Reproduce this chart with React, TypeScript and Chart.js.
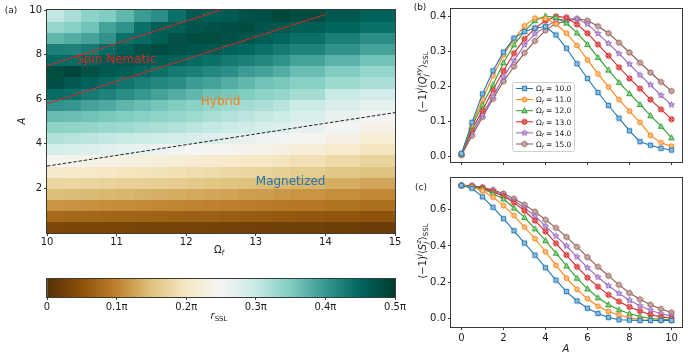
import React, { useEffect, useRef } from "react";
import { Chart, registerables } from "chart.js";
Chart.register(...registerables);

const FONT = '"DejaVu Sans", "Liberation Sans", sans-serif';

// ---------------- data ----------------
const A_VALUES = [0, 0.5, 1, 1.5, 2, 2.5, 3, 3.5, 4, 4.5, 5, 5.5, 6, 6.5, 7, 7.5, 8, 8.5, 9, 9.5, 10];
const OMEGA_LABELS = ["10.0", "11.0", "12.0", "13.0", "14.0", "15.0"];

const Q_10 = [0.009, 0.098, 0.179, 0.245, 0.298, 0.338, 0.357, 0.366, 0.371, 0.347, 0.309, 0.265, 0.223, 0.183, 0.146, 0.110, 0.074, 0.043, 0.033, 0.024, 0.019];
const Q_11 = [0.008, 0.092, 0.163, 0.231, 0.290, 0.335, 0.373, 0.395, 0.394, 0.378, 0.352, 0.317, 0.276, 0.236, 0.199, 0.163, 0.130, 0.098, 0.061, 0.040, 0.030];
const Q_12 = [0.007, 0.087, 0.148, 0.205, 0.268, 0.319, 0.357, 0.388, 0.401, 0.397, 0.381, 0.353, 0.320, 0.283, 0.247, 0.212, 0.180, 0.149, 0.117, 0.087, 0.054];
const Q_13 = [0.007, 0.078, 0.132, 0.191, 0.245, 0.295, 0.336, 0.366, 0.388, 0.400, 0.397, 0.377, 0.352, 0.320, 0.288, 0.255, 0.223, 0.194, 0.163, 0.135, 0.107];
const Q_14 = [0.006, 0.070, 0.120, 0.172, 0.227, 0.274, 0.319, 0.350, 0.370, 0.388, 0.393, 0.393, 0.378, 0.351, 0.323, 0.294, 0.264, 0.233, 0.205, 0.175, 0.148];
const Q_15 = [0.005, 0.060, 0.113, 0.165, 0.215, 0.257, 0.296, 0.330, 0.360, 0.380, 0.386, 0.393, 0.388, 0.372, 0.352, 0.325, 0.297, 0.268, 0.240, 0.213, 0.187];

const S_10 = [0.735, 0.719, 0.672, 0.614, 0.551, 0.484, 0.416, 0.349, 0.280, 0.211, 0.148, 0.096, 0.056, 0.027, 0.005, -0.008, -0.010, -0.012, -0.012, -0.012, -0.012];
const S_11 = [0.735, 0.725, 0.705, 0.670, 0.623, 0.568, 0.505, 0.440, 0.368, 0.293, 0.222, 0.160, 0.108, 0.067, 0.038, 0.018, 0.003, -0.008, -0.010, -0.012, -0.012];
const S_12 = [0.735, 0.728, 0.715, 0.690, 0.660, 0.610, 0.558, 0.495, 0.430, 0.360, 0.290, 0.222, 0.163, 0.114, 0.075, 0.047, 0.025, 0.010, -0.001, -0.006, -0.010];
const S_13 = [0.735, 0.730, 0.720, 0.700, 0.675, 0.640, 0.595, 0.540, 0.480, 0.415, 0.350, 0.285, 0.225, 0.175, 0.130, 0.093, 0.063, 0.040, 0.020, 0.008, 0.000];
const S_14 = [0.735, 0.732, 0.722, 0.705, 0.680, 0.650, 0.610, 0.565, 0.510, 0.455, 0.400, 0.340, 0.280, 0.228, 0.180, 0.138, 0.100, 0.070, 0.045, 0.025, 0.012];
const S_15 = [0.735, 0.733, 0.725, 0.710, 0.690, 0.662, 0.628, 0.590, 0.545, 0.500, 0.450, 0.395, 0.338, 0.285, 0.235, 0.185, 0.140, 0.105, 0.075, 0.052, 0.032];

const Q_SERIES = [Q_10, Q_11, Q_12, Q_13, Q_14, Q_15];
const S_SERIES = [S_10, S_11, S_12, S_13, S_14, S_15];

// heat map: r_SSL in units of pi; rows from A = 0 (bottom) to A = 10 (top)
const OMEGA_EDGES = [10, 10.25, 10.5, 10.75, 11, 11.25, 11.5, 11.75, 12, 12.25, 12.5, 12.75, 13, 13.25, 13.5, 14, 14.5, 15];
const A_EDGES = [0, 0.5, 1, 1.5, 2, 2.5, 3, 3.5, 4, 4.5, 5, 5.5, 6, 6.5, 7, 7.5, 8, 8.5, 9, 9.5, 10];
const R_ROWS = [
  [0.036, 0.035, 0.034, 0.033, 0.033, 0.032, 0.031, 0.031, 0.030, 0.029, 0.028, 0.027, 0.026, 0.025, 0.024, 0.022, 0.020],
  [0.075, 0.074, 0.073, 0.072, 0.071, 0.070, 0.068, 0.067, 0.066, 0.065, 0.063, 0.062, 0.060, 0.059, 0.057, 0.055, 0.052],
  [0.115, 0.113, 0.112, 0.110, 0.109, 0.107, 0.105, 0.103, 0.102, 0.100, 0.098, 0.096, 0.094, 0.092, 0.090, 0.086, 0.082],
  [0.148, 0.146, 0.144, 0.142, 0.140, 0.138, 0.135, 0.133, 0.131, 0.128, 0.126, 0.123, 0.121, 0.118, 0.115, 0.110, 0.105],
  [0.178, 0.176, 0.174, 0.172, 0.170, 0.167, 0.165, 0.162, 0.159, 0.156, 0.153, 0.150, 0.147, 0.144, 0.140, 0.134, 0.128],
  [0.208, 0.206, 0.204, 0.201, 0.198, 0.195, 0.192, 0.189, 0.186, 0.183, 0.179, 0.176, 0.172, 0.168, 0.163, 0.157, 0.150],
  [0.245, 0.242, 0.238, 0.234, 0.230, 0.227, 0.224, 0.220, 0.216, 0.212, 0.208, 0.204, 0.200, 0.196, 0.190, 0.181, 0.172],
  [0.285, 0.281, 0.277, 0.272, 0.268, 0.264, 0.259, 0.255, 0.250, 0.246, 0.242, 0.238, 0.233, 0.228, 0.222, 0.210, 0.198],
  [0.315, 0.312, 0.308, 0.304, 0.300, 0.295, 0.291, 0.286, 0.280, 0.275, 0.270, 0.265, 0.260, 0.254, 0.246, 0.232, 0.218],
  [0.342, 0.339, 0.336, 0.332, 0.328, 0.324, 0.319, 0.314, 0.308, 0.302, 0.296, 0.290, 0.284, 0.278, 0.266, 0.252, 0.236],
  [0.367, 0.364, 0.360, 0.355, 0.350, 0.345, 0.340, 0.334, 0.328, 0.321, 0.314, 0.308, 0.301, 0.294, 0.282, 0.266, 0.252],
  [0.405, 0.400, 0.390, 0.383, 0.372, 0.365, 0.357, 0.350, 0.343, 0.337, 0.330, 0.325, 0.320, 0.310, 0.295, 0.280, 0.268],
  [0.445, 0.440, 0.430, 0.420, 0.410, 0.400, 0.390, 0.380, 0.370, 0.360, 0.355, 0.348, 0.340, 0.335, 0.325, 0.300, 0.288],
  [0.478, 0.465, 0.455, 0.445, 0.435, 0.425, 0.415, 0.410, 0.395, 0.390, 0.380, 0.370, 0.360, 0.355, 0.345, 0.330, 0.320],
  [0.480, 0.490, 0.475, 0.465, 0.460, 0.450, 0.440, 0.430, 0.425, 0.415, 0.410, 0.395, 0.390, 0.380, 0.365, 0.350, 0.335],
  [0.445, 0.445, 0.455, 0.465, 0.470, 0.465, 0.460, 0.455, 0.445, 0.440, 0.430, 0.425, 0.415, 0.405, 0.390, 0.375, 0.360],
  [0.425, 0.420, 0.430, 0.445, 0.460, 0.475, 0.480, 0.475, 0.470, 0.465, 0.455, 0.450, 0.440, 0.430, 0.420, 0.405, 0.390],
  [0.370, 0.380, 0.390, 0.405, 0.440, 0.445, 0.460, 0.475, 0.480, 0.480, 0.475, 0.470, 0.460, 0.450, 0.440, 0.425, 0.410],
  [0.335, 0.345, 0.360, 0.390, 0.405, 0.440, 0.460, 0.460, 0.470, 0.475, 0.478, 0.480, 0.470, 0.468, 0.460, 0.450, 0.440],
  [0.305, 0.320, 0.340, 0.350, 0.370, 0.395, 0.410, 0.440, 0.465, 0.460, 0.463, 0.475, 0.477, 0.487, 0.480, 0.467, 0.455],
];

// phase boundary lines (Omega, A)
const NEMATIC_UPPER_OMEGA = [10, 12.5];
const NEMATIC_UPPER_A = [7.5, 10];
const NEMATIC_LOWER_OMEGA = [10, 14];
const NEMATIC_LOWER_A = [5.8, 9.8];
const MAGNET_OMEGA = [10, 15];
const MAGNET_A = [3.0, 5.4];

const HEAT_X_TICKS = [10, 11, 12, 13, 14, 15];
const HEAT_Y_TICKS = [2, 4, 6, 8, 10];
const CB_TICKS = [0, 0.1, 0.2, 0.3, 0.4, 0.5];
const CB_TICK_LABELS = ["0", "0.1π", "0.2π", "0.3π", "0.4π", "0.5π"];
const A_TICKS = [0, 2, 4, 6, 8, 10];
const Q_TICKS = [0, 0.1, 0.2, 0.3, 0.4];
const S_TICKS = [0, 0.2, 0.4, 0.6];

// ---------------- styles ----------------
const SERIES_COLORS = ["#1f77b4", "#ff7f0e", "#2ca02c", "#d62728", "#9467bd", "#8c564b"];
const MARKER_SHAPES = ["square", "circle", "triangle", "xcircle", "star", "octagon"];
const BRBG = ["#543005", "#8c510a", "#bf812d", "#dfc27d", "#f6e8c3", "#f5f5f5", "#c7eae5", "#80cdc1", "#35978f", "#01665e", "#003c30"];
const AXIS_COLOR = "#3a3a3a";
const TEXT_COLOR = "#1a1a1a";

function hexToRgb(h: string) {
  const n = parseInt(h.slice(1), 16);
  return [(n >> 16) & 255, (n >> 8) & 255, n & 255];
}
const BRBG_RGB = BRBG.map(hexToRgb);
function cmap(t: number) {
  t = Math.max(0, Math.min(1, t));
  const p = t * 10;
  const i = Math.min(9, Math.floor(p));
  const f = p - i;
  const a = BRBG_RGB[i], b = BRBG_RGB[i + 1];
  const c = a.map((v, k) => Math.round(v + (b[k] - v) * f));
  return `rgb(${c[0]},${c[1]},${c[2]})`;
}

function hexA(h: string, a: number) {
  const [r, g, b] = hexToRgb(h);
  return `rgba(${r},${g},${b},${a})`;
}

function makeMarker(shape: string, color: string): HTMLCanvasElement {
  const s = 9;
  const cv = document.createElement("canvas");
  cv.width = s; cv.height = s;
  const ctx = cv.getContext("2d")!;
  const c = s / 2;
  ctx.fillStyle = "#fff";
  ctx.strokeStyle = color;
  ctx.lineWidth = 1;
  ctx.beginPath();
  if (shape === "square") {
    ctx.rect(c - 2.2, c - 2.2, 4.4, 4.4);
  } else if (shape === "circle") {
    ctx.arc(c, c, 2.4, 0, Math.PI * 2);
  } else if (shape === "triangle") {
    ctx.moveTo(c, c - 2.9);
    ctx.lineTo(c + 2.7, c + 2.1);
    ctx.lineTo(c - 2.7, c + 2.1);
    ctx.closePath();
  } else if (shape === "xcircle") {
    ctx.arc(c, c, 2.6, 0, Math.PI * 2);
  } else if (shape === "star") {
    for (let k = 0; k < 10; k++) {
      const r = k % 2 === 0 ? 3.1 : 1.35;
      const ang = -Math.PI / 2 + (k * Math.PI) / 5;
      const x = c + r * Math.cos(ang), y = c + r * Math.sin(ang);
      if (k === 0) ctx.moveTo(x, y); else ctx.lineTo(x, y);
    }
    ctx.closePath();
  } else {
    for (let k = 0; k < 8; k++) {
      const ang = Math.PI / 8 + (k * Math.PI) / 4;
      const x = c + 2.7 * Math.cos(ang), y = c + 2.7 * Math.sin(ang);
      if (k === 0) ctx.moveTo(x, y); else ctx.lineTo(x, y);
    }
    ctx.closePath();
  }
  ctx.fill();
  ctx.fillStyle = hexA(color, 0.5);
  ctx.fill();
  ctx.stroke();
  if (shape === "xcircle") {
    ctx.beginPath();
    ctx.moveTo(c - 1.6, c - 1.6); ctx.lineTo(c + 1.6, c + 1.6);
    ctx.moveTo(c + 1.6, c - 1.6); ctx.lineTo(c - 1.6, c + 1.6);
    ctx.stroke();
  }
  return cv;
}

// ---------------- rich text ----------------
type Seg = { t?: string; it?: boolean; sub?: boolean; sup?: boolean; up?: string; dn?: string };
function fnt(size: number, italic?: boolean) {
  return `${italic ? "italic " : ""}${size}px ${FONT}`;
}
function drawRich(ctx: CanvasRenderingContext2D, segs: Seg[], x: number, y: number, size: number, color: string, align: "left" | "center", rot = 0) {
  ctx.save();
  ctx.translate(x, y);
  if (rot) ctx.rotate(rot);
  const small = size * 0.7;
  const widths = segs.map((s) => {
    if (s.up !== undefined || s.dn !== undefined) {
      ctx.font = fnt(small, true);
      return Math.max(s.up ? ctx.measureText(s.up).width : 0, s.dn ? ctx.measureText(s.dn).width : 0);
    }
    ctx.font = fnt(s.sub || s.sup ? small : size, s.it);
    return ctx.measureText(s.t || "").width;
  });
  const total = widths.reduce((a, b) => a + b, 0);
  let cx = align === "center" ? -total / 2 : 0;
  ctx.fillStyle = color;
  ctx.textAlign = "left";
  ctx.textBaseline = "alphabetic";
  const base = size * 0.36;
  segs.forEach((s, i) => {
    if (s.up !== undefined || s.dn !== undefined) {
      ctx.font = fnt(small, true);
      if (s.up) ctx.fillText(s.up, cx, base - size * 0.45);
      if (s.dn) ctx.fillText(s.dn, cx, base + size * 0.28);
    } else {
      ctx.font = fnt(s.sub || s.sup ? small : size, s.it);
      const dy = s.sub ? size * 0.25 : s.sup ? -size * 0.42 : 0;
      ctx.fillText(s.t || "", cx, base + dy);
    }
    cx += widths[i];
  });
  ctx.restore();
}

function framePlugin(id: string) {
  return {
    id,
    afterDraw(chart: any) {
      const { ctx, chartArea: ca } = chart;
      ctx.save();
      ctx.strokeStyle = AXIS_COLOR;
      ctx.lineWidth = 1;
      ctx.strokeRect(Math.round(ca.left) - 0.5, Math.round(ca.top) - 0.5, Math.round(ca.right) - Math.round(ca.left) + 1, Math.round(ca.bottom) - Math.round(ca.top) + 1);
      ctx.restore();
    },
  };
}

const tickFont = { family: FONT, size: 10 };

function fixedTicks(values: number[]) {
  return (scale: any) => {
    scale.ticks = values.map((v) => ({ value: v }));
  };
}

export default function App() {
  const heatRef = useRef<HTMLCanvasElement>(null);
  const cbRef = useRef<HTMLCanvasElement>(null);
  const bRef = useRef<HTMLCanvasElement>(null);
  const cRef = useRef<HTMLCanvasElement>(null);

  useEffect(() => {
    const markers = MARKER_SHAPES.map((s, i) => makeMarker(s, SERIES_COLORS[i]));
    const charts: Chart[] = [];

    // ---------- (a) heat map ----------
    const heatCells = {
      id: "heatCells",
      beforeDatasetsDraw(chart: any) {
        const { ctx, chartArea: ca, scales } = chart;
        const xs = scales.x, ys = scales.y;
        ctx.save();
        ctx.beginPath();
        ctx.rect(ca.left, ca.top, ca.width, ca.height);
        ctx.clip();
        for (let r = 0; r < R_ROWS.length; r++) {
          const yb = ys.getPixelForValue(A_EDGES[r]);
          const yt = ys.getPixelForValue(A_EDGES[r + 1]);
          for (let c = 0; c < R_ROWS[r].length; c++) {
            const xl = xs.getPixelForValue(OMEGA_EDGES[c]);
            const xr = xs.getPixelForValue(OMEGA_EDGES[c + 1]);
            ctx.fillStyle = cmap(R_ROWS[r][c] / 0.5);
            ctx.fillRect(Math.floor(xl), Math.floor(yt), Math.ceil(xr) - Math.floor(xl), Math.ceil(yb) - Math.floor(yt));
          }
        }
        ctx.restore();
      },
    };
    const heatText = {
      id: "heatText",
      afterDraw(chart: any) {
        const { ctx, scales } = chart;
        const xs = scales.x, ys = scales.y;
        const put = (txt: string, om: number, a: number, color: string) => {
          ctx.save();
          ctx.font = fnt(12);
          ctx.fillStyle = color;
          ctx.textAlign = "left";
          ctx.textBaseline = "middle";
          ctx.fillText(txt, xs.getPixelForValue(om), ys.getPixelForValue(a));
          ctx.restore();
        };
        put("Spin Nematic", 10.42, 7.75, "#d62728");
        put("Hybrid", 12.21, 5.87, "#ff7f0e");
        put("Magnetized", 13.0, 2.29, "#1f77b4");
        drawRich(ctx, [{ t: "(a)" }], 11, 10, 9, TEXT_COLOR, "center");
        drawRich(ctx, [{ t: "A", it: true }], 21, 121, 10, TEXT_COLOR, "center", -Math.PI / 2);
        drawRich(ctx, [{ t: "Ω" }, { t: "f", sub: true, it: true }], 219, 249, 10, TEXT_COLOR, "center");
      },
    };
    const lineDs = (oms: number[], as: number[], color: string, dash: number[] = []) => ({
      data: oms.map((o, i) => ({ x: o, y: as[i] })),
      showLine: true,
      borderColor: color,
      borderWidth: 1,
      borderDash: dash,
      pointRadius: 0,
      fill: false,
    });
    charts.push(
      new Chart(heatRef.current!, {
        type: "scatter",
        data: {
          datasets: [
            lineDs(NEMATIC_UPPER_OMEGA, NEMATIC_UPPER_A, "#d62728"),
            lineDs(NEMATIC_LOWER_OMEGA, NEMATIC_LOWER_A, "#d62728"),
            lineDs(MAGNET_OMEGA, MAGNET_A, "#222222", [3.5, 1.8]),
          ] as any,
        },
        options: {
          animation: false,
          responsive: false,
          events: [],
          layout: { padding: { left: 0, top: 10, right: 15, bottom: 0 } },
          plugins: { legend: { display: false }, tooltip: { enabled: false } },
          scales: {
            x: {
              type: "linear", min: 10, max: 15,
              afterBuildTicks: fixedTicks(HEAT_X_TICKS),
              afterFit: (s: any) => { s.height = 27; },
              grid: { drawOnChartArea: false, tickLength: 3, color: AXIS_COLOR },
              border: { display: false },
              ticks: { font: tickFont, color: TEXT_COLOR, padding: 0, maxRotation: 0 },
            },
            y: {
              type: "linear", min: 0, max: 10,
              afterBuildTicks: fixedTicks(HEAT_Y_TICKS),
              afterFit: (s: any) => { s.width = 47; },
              grid: { drawOnChartArea: false, tickLength: 3, color: AXIS_COLOR },
              border: { display: false },
              ticks: { font: tickFont, color: TEXT_COLOR, padding: 2 },
            },
          },
        } as any,
        plugins: [heatCells, heatText, framePlugin("heatFrame")] as any,
      })
    );

    // ---------- colour bar ----------
    const cbText = {
      id: "cbText",
      afterDraw(chart: any) {
        drawRich(chart.ctx, [{ t: "r", it: true }, { t: "SSL", sub: true }], 219, 45, 10, TEXT_COLOR, "center");
      },
    };
    charts.push(
      new Chart(cbRef.current!, {
        type: "bar",
        data: {
          labels: ["r"],
          datasets: [
            {
              data: [[CB_TICKS[0], CB_TICKS[CB_TICKS.length - 1]]],
              backgroundColor: (c: any) => {
                const ca = c.chart.chartArea;
                if (!ca) return "#fff";
                const g = c.chart.ctx.createLinearGradient(ca.left, 0, ca.right, 0);
                BRBG.forEach((col, i) => g.addColorStop(i / (BRBG.length - 1), col));
                return g;
              },
              borderWidth: 0,
              barPercentage: 1,
              categoryPercentage: 1,
            },
          ] as any,
        },
        options: {
          indexAxis: "y",
          animation: false,
          responsive: false,
          events: [],
          layout: { padding: { left: 47, top: 9, right: 15, bottom: 0 } },
          plugins: { legend: { display: false }, tooltip: { enabled: false } },
          scales: {
            x: {
              type: "linear", min: 0, max: 0.5,
              afterBuildTicks: fixedTicks(CB_TICKS),
              afterFit: (s: any) => { s.height = 62; },
              grid: { drawOnChartArea: false, tickLength: 3, color: AXIS_COLOR },
              border: { display: false },
              ticks: { font: tickFont, color: TEXT_COLOR, padding: 1, maxRotation: 0, callback: (_v: any, i: number) => CB_TICK_LABELS[i] },
            },
            y: { display: false },
          },
        } as any,
        plugins: [cbText, framePlugin("cbFrame")] as any,
      })
    );

    // ---------- (b) and (c) ----------
    const makeDatasets = (series: number[][]) =>
      series.map((vals, i) => ({
        label: OMEGA_LABELS[i],
        data: A_VALUES.map((a, k) => ({ x: a, y: vals[k] })),
        borderColor: SERIES_COLORS[i],
        backgroundColor: SERIES_COLORS[i],
        borderWidth: 1.1,
        pointStyle: markers[i],
        pointRadius: 3,
        tension: 0,
        fill: false,
      }));

    const legendPlugin = {
      id: "bLegend",
      afterDraw(chart: any) {
        const ctx = chart.ctx as CanvasRenderingContext2D;
        const x0 = 112.5, y0 = 82.5, w = 62, h = 69;
        ctx.save();
        ctx.fillStyle = "rgba(255,255,255,0.85)";
        ctx.strokeStyle = "#d0d0d0";
        ctx.lineWidth = 1;
        ctx.beginPath();
        (ctx as any).roundRect(x0, y0, w, h, 2);
        ctx.fill();
        ctx.stroke();
        for (let i = 0; i < OMEGA_LABELS.length; i++) {
          const y = 88.5 + i * 11.1;
          ctx.strokeStyle = SERIES_COLORS[i];
          ctx.beginPath();
          ctx.moveTo(116, y);
          ctx.lineTo(133, y);
          ctx.stroke();
          const m = markers[i];
          ctx.drawImage(m, 124.5 - m.width / 2, y - m.height / 2);
          drawRich(ctx, [{ t: "Ω" }, { t: "f", sub: true, it: true }, { t: " = " + OMEGA_LABELS[i] }], 136, y, 7.5, TEXT_COLOR, "left");
        }
        ctx.restore();
      },
    };
    const bText = {
      id: "bText",
      afterDraw(chart: any) {
        const ctx = chart.ctx;
        drawRich(ctx, [{ t: "(b)" }], 20, 7, 9, TEXT_COLOR, "center");
        drawRich(ctx, [{ t: "(−1)" }, { t: "j", sup: true, it: true }, { t: "⟨" }, { t: "Q", it: true }, { up: "xy", dn: "j" }, { t: "⟩" }, { t: "SSL", sub: true }], 22, 82, 10, TEXT_COLOR, "center", -Math.PI / 2);
      },
    };
    const cText = {
      id: "cText",
      afterDraw(chart: any) {
        const ctx = chart.ctx;
        drawRich(ctx, [{ t: "(c)" }], 21, 17, 9, TEXT_COLOR, "center");
        drawRich(ctx, [{ t: "(−1)" }, { t: "j", sup: true, it: true }, { t: "⟨" }, { t: "S", it: true }, { up: "z", dn: "j" }, { t: "⟩" }, { t: "SSL", sub: true }], 22, 81, 10, TEXT_COLOR, "center", -Math.PI / 2);
        drawRich(ctx, [{ t: "A", it: true }], 166, 178, 10, TEXT_COLOR, "center");
      },
    };

    const lineOptions = (yMin: number, yMax: number, yTicks: number[], xLabels: boolean, padTop: number, xH: number) => ({
      animation: false,
      responsive: false,
      events: [],
      layout: { padding: { left: 0, top: padTop, right: 6, bottom: 0 } },
      plugins: { legend: { display: false }, tooltip: { enabled: false } },
      scales: {
        x: {
          type: "linear", min: -0.5, max: 10.5,
          afterBuildTicks: fixedTicks(A_TICKS),
          afterFit: (s: any) => { s.height = xH; },
          grid: { drawOnChartArea: false, tickLength: 3, color: AXIS_COLOR },
          border: { display: false },
          ticks: { display: xLabels, font: tickFont, color: TEXT_COLOR, padding: 2, maxRotation: 0 },
        },
        y: {
          type: "linear", min: yMin, max: yMax,
          afterBuildTicks: fixedTicks(yTicks),
          afterFit: (s: any) => { s.width = 51; },
          grid: { drawOnChartArea: false, tickLength: 3, color: AXIS_COLOR },
          border: { display: false },
          ticks: { font: tickFont, color: TEXT_COLOR, padding: 2, callback: (v: any) => Number(v).toFixed(1) },
        },
      },
    });

    charts.push(
      new Chart(bRef.current!, {
        type: "line",
        data: { datasets: makeDatasets(Q_SERIES) as any },
        options: lineOptions(-0.015, 0.421, Q_TICKS, false, 9, 8) as any,
        plugins: [framePlugin("bFrame"), legendPlugin, bText] as any,
      })
    );
    charts.push(
      new Chart(cRef.current!, {
        type: "line",
        data: { datasets: makeDatasets(S_SERIES) as any },
        options: lineOptions(-0.048, 0.776, S_TICKS, true, 4, 32) as any,
        plugins: [framePlugin("cFrame"), cText] as any,
      })
    );

    return () => charts.forEach((c) => c.destroy());
  }, []);

  const abs = (l: number, t: number, w: number, h: number): React.CSSProperties => ({ position: "absolute", left: l, top: t, width: w, height: h });
  return (
    <div style={{ position: "fixed", left: 0, top: 0, width: 688, height: 359, background: "#fff", overflow: "hidden" }}>
      <canvas ref={heatRef} width={410} height={260} style={abs(0, 0, 410, 260)} />
      <canvas ref={cbRef} width={410} height={89} style={abs(0, 270, 410, 89)} />
      <canvas ref={bRef} width={288} height={170} style={abs(400, 0, 288, 170)} />
      <canvas ref={cRef} width={288} height={189} style={abs(400, 170, 288, 189)} />
    </div>
  );
}
